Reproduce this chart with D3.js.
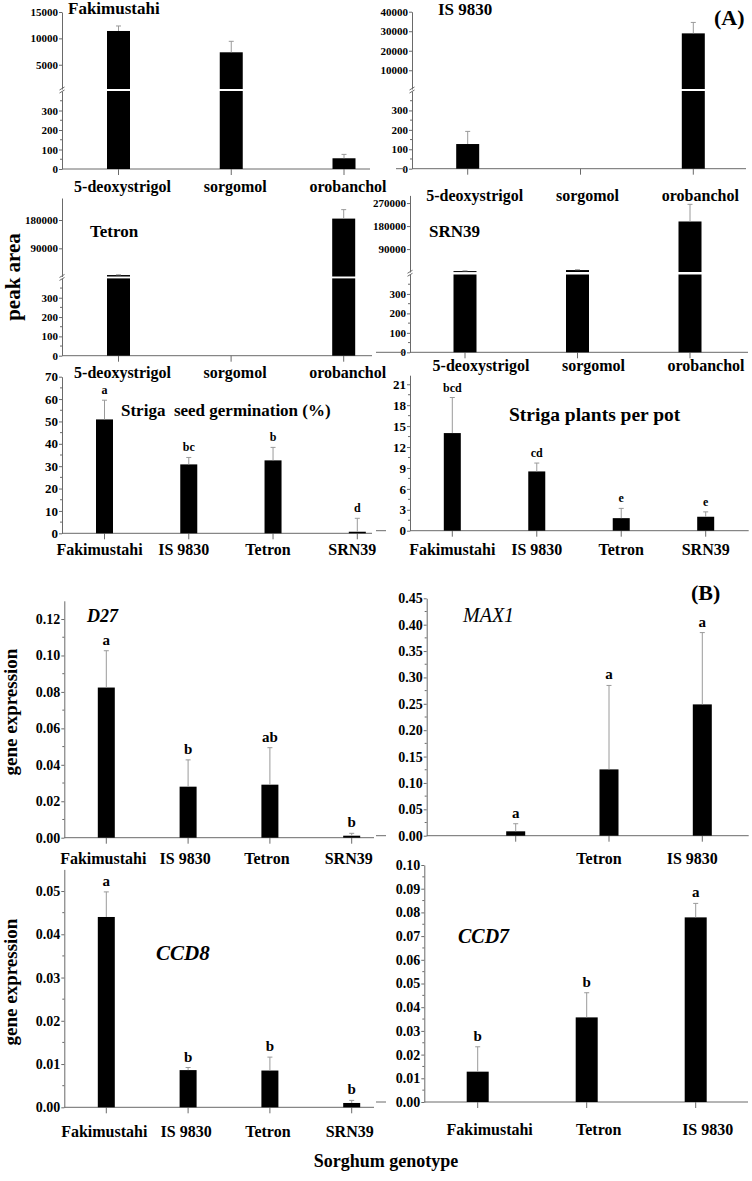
<!DOCTYPE html>
<html><head><meta charset="utf-8">
<script src="https://cdn.jsdelivr.net/npm/d3@7"></script>
<style>
body{margin:0;background:#fff;}
</style></head><body>
<svg id="c" width="752" height="1181" style="font-family:'Liberation Serif','Times New Roman',Times,serif"></svg>
<script>
// ---------- DATA ----------
const compounds = ["5-deoxystrigol", "sorgomol", "orobanchol"];
const genotypes4 = ["Fakimustahi", "IS 9830", "Tetron", "SRN39"];
const genotypes3 = ["Fakimustahi", "Tetron", "IS 9830"];
const max1Labels = ["", "Tetron", "IS 9830"];

// (A) peak area of strigolactones per genotype
const fakiPeak = [11400, 7360, 55];
const fakiPeakSd = [950, 2080, 20];
const is9830Peak = [127, 0, 28900];
const is9830PeakSd = [65, 0, 5600];
const tetronPeak = [5000, 0, 184500];
const tetronPeakSd = [900, 0, 28500];
const srn39Peak = [4000, 8000, 198000];
const srn39PeakSd = [1200, 1500, 67000];

const germination = [50.9, 30.8, 32.6, 0.7];
const germinationSd = [8.6, 3.1, 5.8, 6.0];
const germinationLetters = ["a", "bc", "b", "d"];

const plantsPerPot = [14.0, 8.5, 1.8, 2.0];
const plantsPerPotSd = [5.1, 1.2, 1.4, 0.7];
const plantsLetters = ["bcd", "cd", "e", "e"];

// (B) gene expression
const d27 = [0.0824, 0.0280, 0.0291, 0.0011];
const d27Sd = [0.0202, 0.0147, 0.0203, 0.0013];
const d27Letters = ["a", "b", "ab", "b"];

const max1 = [0.0083, 0.1257, 0.2489];
const max1Sd = [0.0144, 0.1591, 0.1361];
const max1Letters = ["a", "a", "a"];

const ccd8 = [0.0440, 0.0086, 0.0085, 0.0010];
const ccd8Sd = [0.0058, 0.0006, 0.0031, 0.0006];
const ccd8Letters = ["a", "b", "b", "b"];

const ccd7 = [0.0128, 0.0357, 0.0779];
const ccd7Sd = [0.0105, 0.0104, 0.0059];
const ccd7Letters = ["b", "b", "a"];

// tick values
const peakLowTicks = [0, 100, 200, 300];
const fakiHighTicks = [5000, 10000, 15000];
const is9830HighTicks = [10000, 20000, 30000, 40000];
const tetronHighTicks = [90000, 180000];
const srn39HighTicks = [90000, 180000, 270000];
const germTicks = [0, 10, 20, 30, 40, 50, 60, 70];
const plantsTicks = [0, 3, 6, 9, 12, 15, 18, 21];
const d27Ticks = [0, 0.02, 0.04, 0.06, 0.08, 0.10, 0.12];
const max1Ticks = [0, 0.05, 0.10, 0.15, 0.20, 0.25, 0.30, 0.35, 0.40, 0.45];
const ccd8Ticks = [0, 0.01, 0.02, 0.03, 0.04, 0.05];
const ccd7Ticks = [0, 0.01, 0.02, 0.03, 0.04, 0.05, 0.06, 0.07, 0.08, 0.09, 0.10];

// ---------- DRAW ----------
const FONT = "'Liberation Serif','Times New Roman',Times,serif";
const svg = d3.select("#c");
const AX = "#6a6a6a", EB = "#9a9a9a";
const fmtInt = d3.format("d"), fmt2 = d3.format(".2f");

function styleText(sel) {
  return sel.style("font-family", FONT).style("font-weight", "bold").attr("fill", "#000");
}

function drawPanel(p) {
  const g = svg.append("g");
  const x = d3.scalePoint().domain(p.cats).range([p.c0, p.c1]);
  let yAt, segs;
  if (p.breakVal !== undefined) {
    const lo = d3.scaleLinear().domain([0, p.breakVal]).range([p.y0, p.yLoTop]);
    const hi = d3.scaleLinear().domain([p.breakVal, p.max]).range([p.yHiBot, p.yTop]);
    yAt = v => v <= p.breakVal ? lo(v) : hi(v);
    segs = [{ s: lo, ticks: p.loTicks, minor: true }, { s: hi, ticks: p.hiTicks, minor: false }];
  } else {
    const s = d3.scaleLinear().domain([0, p.max]).range([p.y0, p.yTop]);
    yAt = s;
    segs = [{ s: s, ticks: p.ticks, minor: true }];
  }
  segs.forEach(seg => {
    const ax = d3.axisLeft(seg.s).tickValues(seg.ticks).tickSize(3).tickSizeOuter(0).tickPadding(1).tickFormat(p.fmt);
    const ga = g.append("g").attr("transform", `translate(${p.axisX},0)`).call(ax);
    ga.attr("font-size", p.tickFs).attr("font-family", null);
    ga.select(".domain").attr("stroke", AX);
    ga.selectAll(".tick line").attr("stroke", AX);
    styleText(ga.selectAll(".tick text"));
    if (seg.minor) {
      const t = seg.ticks;
      const mids = [];
      for (let i = 0; i < t.length - 1; i++) mids.push((t[i] + t[i + 1]) / 2);
      const dmax = seg.s.domain()[1];
      if (t[t.length - 1] + (t[1] - t[0]) / 2 < dmax) mids.push(t[t.length - 1] + (t[1] - t[0]) / 2);
      g.selectAll(null).data(mids).enter().append("line")
        .attr("x1", p.axisX - 2).attr("x2", p.axisX)
        .attr("y1", d => seg.s(d)).attr("y2", d => seg.s(d))
        .attr("stroke", AX);
    }
  });
  if (p.breakVal !== undefined) {
    const ym = (p.yLoTop + p.yHiBot) / 2;
    [-1.5, 1.5].forEach(o => {
      g.append("line").attr("x1", p.axisX - 2.5).attr("x2", p.axisX + 2.5)
        .attr("y1", ym + o + 1.5).attr("y2", ym + o - 1.5).attr("stroke", AX);
    });
  }
  // x axis
  g.append("line").attr("x1", p.axisX).attr("x2", p.xEnd).attr("y1", p.y0).attr("y2", p.y0).attr("stroke", AX);
  if (p.stub) g.append("line").attr("x1", p.stub[0]).attr("x2", p.stub[1]).attr("y1", p.y0).attr("y2", p.y0).attr("stroke", AX);
  g.selectAll(null).data(p.cats).enter().append("line")
    .attr("x1", d => x(d)).attr("x2", d => x(d))
    .attr("y1", p.y0).attr("y2", p.y0 + 6).attr("stroke", AX);

  const rows = p.cats.map((c, i) => ({ c, v: p.values[i], sd: p.sd[i], lab: p.letters ? p.letters[i] : null }));
  rows.forEach(r => {
    if (r.v <= 0) return;
    if (p.breakVal !== undefined) {
      const lowTop = yAt(Math.min(r.v, p.breakVal));
      g.append("rect").attr("x", x(r.c) - p.barW / 2).attr("width", p.barW)
        .attr("y", lowTop).attr("height", p.y0 - lowTop).attr("fill", "#000");
      if (r.v > p.breakVal) {
        const ht = yAt(r.v);
        g.append("rect").attr("x", x(r.c) - p.barW / 2).attr("width", p.barW)
          .attr("y", ht).attr("height", Math.max(1, p.yHiBot - ht)).attr("fill", "#000");
      }
    } else {
      g.append("rect").attr("x", x(r.c) - p.barW / 2).attr("width", p.barW)
        .attr("y", yAt(r.v)).attr("height", p.y0 - yAt(r.v)).attr("fill", "#000");
    }
    if (r.sd > 0) {
      const yt = yAt(r.v + r.sd), yb = yAt(r.v);
      g.append("line").attr("x1", x(r.c)).attr("x2", x(r.c)).attr("y1", yb).attr("y2", yt).attr("stroke", EB);
      g.append("line").attr("x1", x(r.c) - 2.5).attr("x2", x(r.c) + 2.5).attr("y1", yt).attr("y2", yt).attr("stroke", EB);
    }
    if (r.lab) {
      styleText(g.append("text").attr("x", x(r.c)).attr("y", yAt(r.v + r.sd) - 6)
        .attr("text-anchor", "middle").attr("font-size", p.letterFs).text(r.lab));
    }
  });
  const labs = p.labels || p.cats;
  styleText(g.selectAll(null).data(p.cats).enter().append("text")
    .attr("x", d => x(d) + p.labDx).attr("y", p.labY)
    .attr("text-anchor", "middle").attr("font-size", p.labFs)
    .text((d, i) => labs[i]));
}

// (A) row 1
drawPanel({ cats: compounds, values: fakiPeak, sd: fakiPeakSd, axisX: 62, xEnd: 370, c0: 118.5, c1: 344, barW: 23,
  y0: 169, yLoTop: 91, yHiBot: 89, yTop: 12, breakVal: 400, max: 15000, loTicks: peakLowTicks, hiTicks: fakiHighTicks,
  fmt: fmtInt, tickFs: 11, labDx: 4, labY: 192, labFs: 16 });
drawPanel({ cats: compounds, values: is9830Peak, sd: is9830PeakSd, axisX: 412, xEnd: 746, c0: 467.7, c1: 693.3, barW: 23,
  y0: 168.7, yLoTop: 91, yHiBot: 89, yTop: 11.7, breakVal: 400, max: 40000, loTicks: peakLowTicks, hiTicks: is9830HighTicks,
  fmt: fmtInt, tickFs: 11, labDx: 7, labY: 201, labFs: 16, stub: [396, 404] });
// (A) row 2
drawPanel({ cats: compounds, values: tetronPeak, sd: tetronPeakSd, axisX: 62, xEnd: 372, c0: 118.5, c1: 343.7, barW: 23,
  y0: 355.7, yLoTop: 278.4, yHiBot: 276.5, yTop: 198, breakVal: 400, max: 250000, loTicks: peakLowTicks, hiTicks: tetronHighTicks,
  fmt: fmtInt, tickFs: 11, labDx: 4, labY: 378, labFs: 16 });
drawPanel({ cats: compounds, values: srn39Peak, sd: srn39PeakSd, axisX: 410, xEnd: 748, c0: 465, c1: 690, barW: 23,
  y0: 352.3, yLoTop: 274.5, yHiBot: 272, yTop: 195.4, breakVal: 400, max: 300000, loTicks: peakLowTicks, hiTicks: srn39HighTicks,
  fmt: fmtInt, tickFs: 11, labDx: 16, labY: 371, labFs: 16, stub: [376, 404] });
// (A) row 3
drawPanel({ cats: genotypes4, values: germination, sd: germinationSd, letters: germinationLetters, axisX: 62, xEnd: 372,
  c0: 104.5, c1: 357.3, barW: 17, y0: 533.3, yTop: 376.7, max: 70, ticks: germTicks, fmt: fmtInt, tickFs: 13,
  letterFs: 12, labDx: -5, labY: 555, labFs: 16 });
drawPanel({ cats: genotypes4, values: plantsPerPot, sd: plantsPerPotSd, letters: plantsLetters, axisX: 410, xEnd: 748.7,
  c0: 452.3, c1: 705.7, barW: 17, y0: 530.7, yTop: 375.2, max: 22.3, ticks: plantsTicks, fmt: fmtInt, tickFs: 13,
  letterFs: 12, labDx: 0, labY: 555, labFs: 16, stub: [376, 386] });
// (B) row 1
drawPanel({ cats: genotypes4, values: d27, sd: d27Sd, letters: d27Letters, axisX: 64.3, xEnd: 374,
  c0: 106.3, c1: 351.7, barW: 17, y0: 837.7, yTop: 600.8, max: 0.13, ticks: d27Ticks, fmt: fmt2, tickFs: 14,
  letterFs: 15, labDx: -3, labY: 864, labFs: 16 });
drawPanel({ cats: genotypes3, labels: max1Labels, values: max1, sd: max1Sd, letters: max1Letters, axisX: 426.7, xEnd: 748.7,
  c0: 515.7, c1: 702.3, barW: 19, y0: 835.7, yTop: 598.3, max: 0.45, ticks: max1Ticks, fmt: fmt2, tickFs: 14,
  letterFs: 15, labDx: -10, labY: 864, labFs: 16, stub: [376, 386] });
// (B) row 2
drawPanel({ cats: genotypes4, values: ccd8, sd: ccd8Sd, letters: ccd8Letters, axisX: 64.3, xEnd: 374,
  c0: 106.3, c1: 351.7, barW: 17, y0: 1107.3, yTop: 869.4, max: 0.055, ticks: ccd8Ticks, fmt: fmt2, tickFs: 14,
  letterFs: 15, labDx: -2, labY: 1137, labFs: 16 });
drawPanel({ cats: genotypes3, values: ccd7, sd: ccd7Sd, letters: ccd7Letters, axisX: 424.3, xEnd: 748,
  c0: 477.7, c1: 695.7, barW: 22, y0: 1102, yTop: 865, max: 0.10, ticks: ccd7Ticks, fmt: fmt2, tickFs: 14,
  letterFs: 15, labDx: 12, labY: 1135, labFs: 16, stub: [376, 386] });

// ---------- TEXT ----------
function txt(s, x, y, fs, opts = {}) {
  const t = styleText(svg.append("text").attr("x", x).attr("y", y).attr("font-size", fs).text(s));
  if (opts.anchor) t.attr("text-anchor", opts.anchor);
  if (opts.italic) t.style("font-style", "italic");
  if (opts.normal) t.style("font-weight", "normal");
  if (opts.rotate) t.attr("transform", `rotate(-90,${x},${y})`);
  return t;
}
txt("Fakimustahi", 68, 14, 17);
txt("IS 9830", 438, 15, 17);
txt("(A)", 714, 25, 22);
txt("Tetron", 90, 237, 17);
txt("SRN39", 429, 237, 17);
txt("peak area", 20, 277, 21, { anchor: "middle", rotate: true });
txt("Striga  seed germination (%)", 121, 416, 17).attr("xml:space", "preserve").style("white-space", "pre");
txt("Striga plants per pot", 509, 421, 19.5);
txt("D27", 87, 622, 18, { italic: true });
txt("MAX1", 463, 622, 20, { italic: true, normal: true });
txt("(B)", 691, 600, 22);
txt("gene expression", 17, 712, 19, { anchor: "middle", rotate: true });
txt("CCD8", 156, 960, 21, { italic: true });
txt("CCD7", 458, 943, 20, { italic: true });
txt("gene expression", 17, 982, 19, { anchor: "middle", rotate: true });
txt("Sorghum genotype", 386, 1167, 18, { anchor: "middle" });
</script>
</body></html>
